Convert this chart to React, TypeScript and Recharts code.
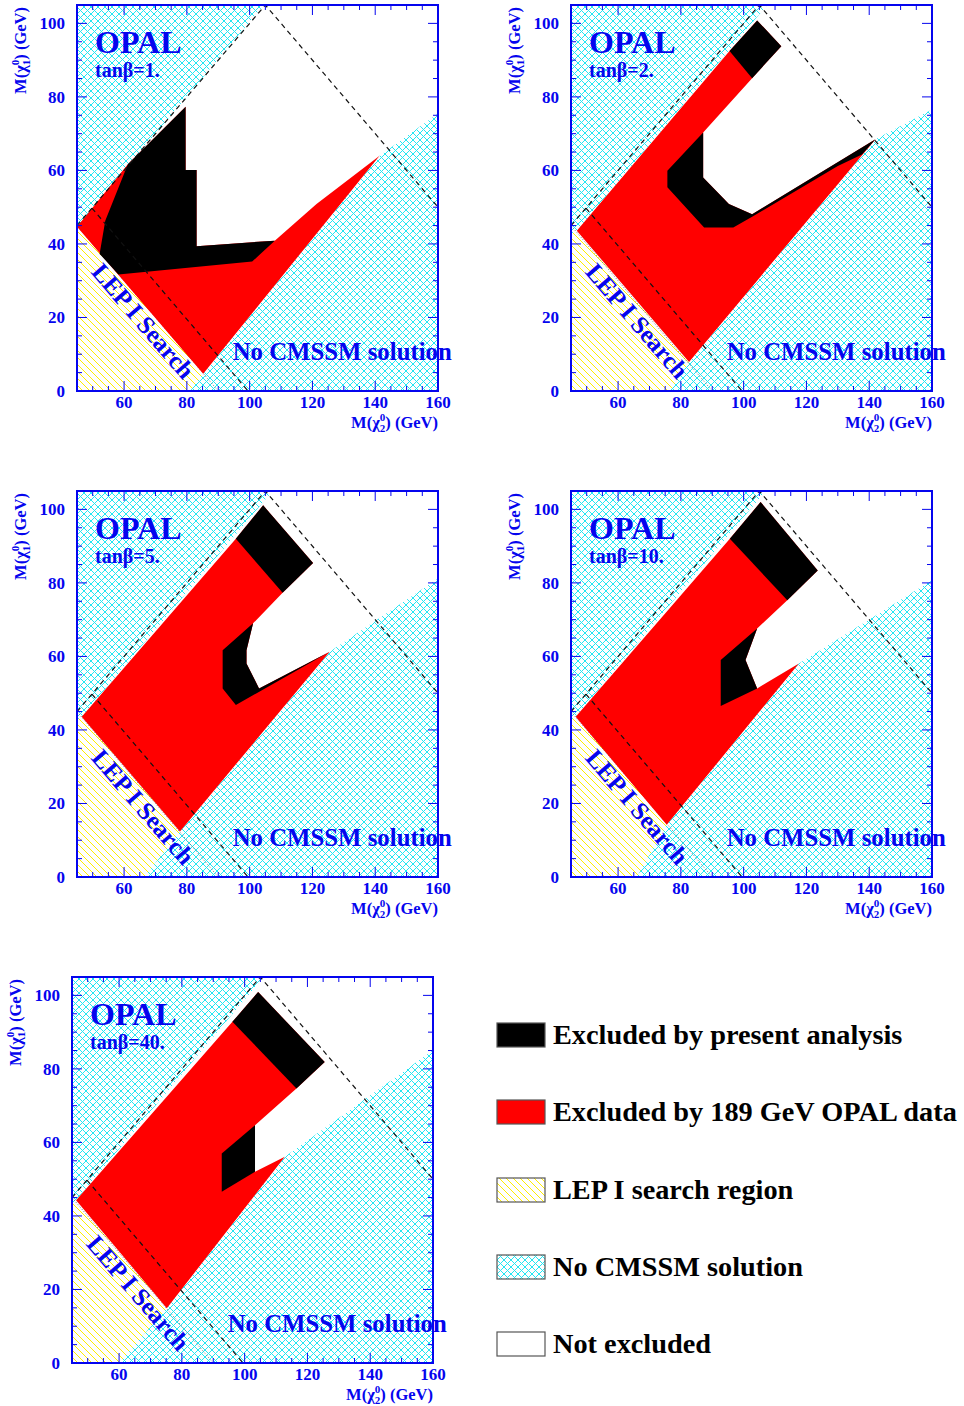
import React from "react";
import { ScatterChart, Scatter, XAxis, YAxis } from "recharts";

type Pt = [number, number];

// axis ticks
const xTicks = [45, 50, 55, 60, 65, 70, 75, 80, 85, 90, 95, 100, 105, 110, 115, 120, 125, 130, 135, 140, 145, 150, 155, 160];
const yTicks = [0, 5, 10, 15, 20, 25, 30, 35, 40, 45, 50, 55, 60, 65, 70, 75, 80, 85, 90, 95, 100, 105];
const xLabels = [60, 80, 100, 120, 140, 160];
const yLabels = [0, 20, 40, 60, 80, 100];

// lines common to all panels
const frame: Pt[] = [[45, 0], [45, 105], [160, 105], [160, 0]];
const kinematicLimit: Pt[] = [[45, 45], [105, 105], [160, 50]];
const lowerLimit: Pt[] = [[49.75, 49.75], [99.5, 0]];
const lepLine: Pt[] = [[45, 45], [90, 0]];
const lepRegion: Pt[] = [[45, 0], [45, 45.2], [90.2, 0]];

const tanBeta = ["1.", "2.", "5.", "10.", "40."];

// tan beta = 1
const p1NoSolUpper: Pt[] = [[45, 44.7], [104.5, 105], [45, 105]];
const p1NoSolLower: Pt[] = [[81, 0], [85.2, 4.7], [141.4, 64], [160, 75.5], [160, 0]];
const p1Excl189: Pt[] = [[45, 44.7], [61.2, 61.7], [79.6, 77.3], [79.6, 60.1], [83.1, 60.1], [83.1, 39.4], [108, 40.9], [121.3, 50.9], [141.4, 64], [85.2, 4.7]];
const p1ExclNew: Pt[][] = [
  [[61.2, 61.7], [79.6, 77.3], [79.6, 60.1], [83.1, 60.1], [83.1, 39.4], [108, 40.9], [100.8, 35.2], [58.2, 31.7], [52.2, 37.3], [54, 46.3]],
];

// tan beta = 2
const p2NoSolUpper: Pt[] = [[45, 42.8], [46.8, 43.5], [107.5, 105], [45, 105]];
const p2NoSolLower: Pt[] = [[76.5, 0], [82.6, 7.9], [142, 68.5], [160, 76.6], [160, 0]];
const p2Excl189: Pt[] = [[46.85, 43.6], [95.5, 92.5], [104.3, 100.8], [112, 93.8], [102.7, 85.1], [87.1, 70.3], [87.1, 58.1], [95.3, 50.9], [102.7, 48.1], [142, 68.5], [82.6, 7.9]];
const p2ExclNew: Pt[][] = [
  [[95.5, 92.5], [104.3, 100.8], [112, 93.8], [102.7, 85.1]],
  [[87.1, 70.3], [75.7, 59.9], [75.7, 55.4], [87.4, 44.5], [96.7, 44.5], [102.7, 47.4], [130, 61.2], [137.7, 64.3], [142, 68.5], [102.7, 48.1], [95.3, 50.9], [87.1, 58.1]],
];

// tan beta = 5
const p3NoSolUpper: Pt[] = [[45, 42.8], [46.5, 43.6], [107.3, 105], [45, 105]];
const p3NoSolLower: Pt[] = [[66.5, 0], [77.8, 12.4], [125.5, 61.3], [160, 81.2], [160, 0]];
const p3Excl189: Pt[] = [[46.5, 43.6], [95.6, 92], [104.3, 101.1], [120.2, 85.4], [110.5, 77.3], [101.1, 69], [99, 61.7], [99, 58.1], [103, 51.3], [125.5, 61.3], [77.8, 12.4]];
const p3ExclNew: Pt[][] = [
  [[95.6, 92], [104.3, 101.1], [120.2, 85.4], [110.5, 77.3]],
  [[91.4, 61.7], [101.1, 69], [99, 61.7], [99, 58.1], [103, 51.3], [125.5, 61.3], [95.6, 46.8], [91.4, 51.3]],
];

// tan beta = 10
const p4NoSolUpper: Pt[] = [[45, 42.8], [46.5, 43.6], [107, 105], [45, 105]];
const p4NoSolLower: Pt[] = [[66, 0], [75.5, 14.2], [117.6, 58.1], [160, 80.7], [160, 0]];
const p4Excl189: Pt[] = [[46.5, 43.6], [95.6, 92], [105.4, 102], [123.6, 83.4], [113.9, 75.3], [104.3, 67.6], [100.6, 59], [104.3, 51.3], [117.6, 58.1], [75.5, 14.2]];
const p4ExclNew: Pt[][] = [
  [[95.6, 92], [105.4, 102], [123.6, 83.4], [113.9, 75.3]],
  [[92.7, 59], [104.3, 67.6], [100.6, 59], [104.3, 51.3], [92.7, 46.5]],
];

// tan beta = 40
const p5NoSolUpper: Pt[] = [[45, 43], [46.3, 44.3], [106, 105], [45, 105]];
const p5NoSolLower: Pt[] = [[60, 0], [75.2, 14.9], [112.8, 56.1], [160, 85.1], [160, 0]];
const p5Excl189: Pt[] = [[46.3, 44.3], [96.1, 92.8], [104.3, 100.9], [125.5, 81.9], [116.5, 74.7], [103.3, 64.7], [103.3, 52], [112.8, 56.1], [75.2, 14.9]];
const p5ExclNew: Pt[][] = [
  [[96.1, 92.8], [104.3, 100.9], [125.5, 81.9], [116.5, 74.7]],
  [[92.7, 57], [103.3, 64.7], [103.3, 52], [92.7, 46.6]],
];

const BLUE = "#0505ee";
const FONT = "'Liberation Serif', 'Times New Roman', serif";
const CYAN = "#22e6f2";
const YELLOW = "#ffee00";

const PW = 361; // plot width
const PH = 386; // plot height
const AXW = 70; // left axis width

const panels = [
  { left: 77, top: 5, noUp: p1NoSolUpper, noLow: p1NoSolLower, red: p1Excl189, black: p1ExclNew },
  { left: 571, top: 5, noUp: p2NoSolUpper, noLow: p2NoSolLower, red: p2Excl189, black: p2ExclNew },
  { left: 77, top: 491, noUp: p3NoSolUpper, noLow: p3NoSolLower, red: p3Excl189, black: p3ExclNew },
  { left: 571, top: 491, noUp: p4NoSolUpper, noLow: p4NoSolLower, red: p4Excl189, black: p4ExclNew },
  { left: 72, top: 977, noUp: p5NoSolUpper, noLow: p5NoSolLower, red: p5Excl189, black: p5ExclNew },
];

// tick mark positions on the four sides of the frame
const bottomTicks = xTicks.map((x) => ({ x, y: 0, major: xLabels.includes(x) }));
const topTicks = xTicks.map((x) => ({ x, y: 105, major: xLabels.includes(x) }));
const leftTicks = yTicks.map((y) => ({ x: 45, y, major: yLabels.includes(y) }));
const rightTicks = yTicks.map((y) => ({ x: 160, y, major: yLabels.includes(y) }));

const toObj = (pts: Pt[]) => pts.map(([x, y]) => ({ x, y }));
const pathOf = (pts: any[], close: boolean) =>
  pts.map((p, i) => `${i ? "L" : "M"}${p.x},${p.y}`).join("") + (close ? "Z" : "");
const noShape = () => <g />;

function region(key: string, pts: Pt[], fill: string) {
  return (
    <Scatter
      key={key}
      data={toObj(pts)}
      shape={noShape}
      isAnimationActive={false}
      line={(p: any) => <path d={pathOf(p.points, true)} fill={fill} stroke="none" />}
    />
  );
}

function polyline(key: string, pts: Pt[], stroke: string, dash: string, width = 1, close = false) {
  return (
    <Scatter
      key={key}
      data={toObj(pts)}
      shape={noShape}
      isAnimationActive={false}
      line={(p: any) => (
        <path d={pathOf(p.points, close)} fill="none" stroke={stroke} strokeWidth={width} strokeDasharray={dash || undefined} />
      )}
    />
  );
}

// dx, dy: direction of the tick into the plot
function tickMarks(key: string, data: any[], dx: number, dy: number) {
  return (
    <Scatter
      key={key}
      data={data}
      isAnimationActive={false}
      shape={(p: any) => {
        const len = p.payload.major ? 10 : 5;
        return <line x1={p.cx} y1={p.cy} x2={p.cx + dx * len} y2={p.cy + dy * len} stroke={BLUE} strokeWidth={1} />;
      }}
    />
  );
}

const tickText = { fill: BLUE, fontFamily: FONT, fontWeight: 700, fontSize: 17 } as const;

function BottomLabel({ x, y, payload }: any) {
  if (!xLabels.includes(payload.value)) return <g />;
  return <text x={x} y={y + 17} textAnchor="middle" {...tickText}>{payload.value}</text>;
}
function LeftLabel({ x, y, payload }: any) {
  if (!yLabels.includes(payload.value)) return <g />;
  return <text x={x - 12} y={y + 6} textAnchor="end" {...tickText}>{payload.value}</text>;
}

function Panel({ cfg, id }: { cfg: (typeof panels)[number]; id: number }) {
  return (
    <div style={{ position: "absolute", left: cfg.left - AXW, top: cfg.top - 5 }}>
      <ScatterChart width={AXW + PW + 22} height={5 + PH + 50} margin={{ top: 5, right: 22, bottom: 0, left: 0 }}>
        <defs>
          <pattern id={`cy${id}`} patternUnits="userSpaceOnUse" width="7" height="7">
            <rect width="7" height="7" fill="#fff" />
            <path d="M0,0L7,7M7,0L0,7" stroke={CYAN} strokeWidth="1" shapeRendering="crispEdges" />
          </pattern>
          <pattern id={`ye${id}`} patternUnits="userSpaceOnUse" width="7" height="7">
            <rect width="7" height="7" fill="#fff" />
            <path d="M0,0L7,7M-1,6L1,8M6,-1L8,1" stroke={YELLOW} strokeWidth="1" shapeRendering="crispEdges" />
          </pattern>
        </defs>
        <XAxis type="number" dataKey="x" domain={[45, 160]} ticks={xTicks} interval={0}
          height={50} tickSize={0} tickMargin={0} axisLine={false} tickLine={false} tick={<BottomLabel />} />
        <YAxis type="number" dataKey="y" domain={[0, 105]} ticks={yTicks} interval={0}
          width={AXW} tickSize={0} tickMargin={0} axisLine={false} tickLine={false} tick={<LeftLabel />} />
        {region("lep", lepRegion, `url(#ye${id})`)}
        {region("noUp", cfg.noUp, `url(#cy${id})`)}
        {region("noLow", cfg.noLow, `url(#cy${id})`)}
        {polyline("lepLine", lepLine, "#777", "1 2")}
        {region("red", cfg.red, "#ff0000")}
        {cfg.black.map((b, i) => region(`black${i}`, b, "#000"))}
        {polyline("kin", kinematicLimit, "#111", "5 4", 1.2)}
        {polyline("low", lowerLimit, "#111", "5 4", 1.2)}
        {tickMarks("tb", bottomTicks, 0, -1)}
        {tickMarks("tt", topTicks, 0, 1)}
        {tickMarks("tl", leftTicks, 1, 0)}
        {tickMarks("tr", rightTicks, -1, 0)}
        {polyline("frame", frame, BLUE, "", 2, true)}
      </ScatterChart>
    </div>
  );
}

const txt = { fill: BLUE, fontFamily: FONT, fontWeight: 700 } as const;

function PanelText({ L, T, tan }: { L: number; T: number; tan: string }) {
  return (
    <g {...txt}>
      <text x={L + 18} y={T + 48} fontSize={32}>OPAL</text>
      <text x={L + 18} y={T + 72} fontSize={20}>tanβ={tan}</text>
      <text x={L + 155.7} y={T + 355} fontSize={24.8}>No CMSSM solution</text>
      <text transform={`translate(${L + 66},${T + 316}) rotate(49.4)`} textAnchor="middle" dominantBaseline="central" fontSize={25}>
        LEP I Search
      </text>
      <text x={L + PW} y={T + 423} textAnchor="end" fontSize={16.5}>
        M(χ<tspan dy={-7} fontSize={11}>0</tspan>
        <tspan dx={-5.5} dy={11} fontSize={11}>2</tspan>
        <tspan dy={-4}>) (GeV)</tspan>
      </text>
      <text transform={`translate(${L - 51},${T + 2}) rotate(-90)`} textAnchor="end" fontSize={16.5}>
        M(χ<tspan dy={-7} fontSize={11}>0</tspan>
        <tspan dx={-5.5} dy={11} fontSize={11}>1</tspan>
        <tspan dy={-4}>) (GeV)</tspan>
      </text>
    </g>
  );
}

const legendItems = [
  { label: "Excluded by present analysis", fill: "#000" },
  { label: "Excluded by 189 GeV OPAL data", fill: "#ff0000" },
  { label: "LEP I search region", fill: "url(#legYe)" },
  { label: "No CMSSM solution", fill: "url(#legCy)" },
  { label: "Not excluded", fill: "#fff" },
];
const legendTops = [1023, 1100, 1178, 1255, 1332];

export default function App() {
  return (
    <div style={{ position: "absolute", left: 0, top: 0, width: 964, height: 1406, background: "#fff" }}>
      {panels.map((p, i) => (
        <Panel key={i} cfg={p} id={i} />
      ))}
      <svg width={964} height={1406} style={{ position: "absolute", left: 0, top: 0, pointerEvents: "none" }}>
        <defs>
          <pattern id="legCy" patternUnits="userSpaceOnUse" width="7" height="7">
            <rect width="7" height="7" fill="#fff" />
            <path d="M0,0L7,7M7,0L0,7" stroke={CYAN} strokeWidth="1" shapeRendering="crispEdges" />
          </pattern>
          <pattern id="legYe" patternUnits="userSpaceOnUse" width="7" height="7">
            <rect width="7" height="7" fill="#fff" />
            <path d="M0,0L7,7M-1,6L1,8M6,-1L8,1" stroke={YELLOW} strokeWidth="1" shapeRendering="crispEdges" />
          </pattern>
        </defs>
        {panels.map((p, i) => (
          <PanelText key={i} L={p.left} T={p.top} tan={tanBeta[i]} />
        ))}
        {legendItems.map((it, i) => (
          <g key={it.label}>
            <rect x={497} y={legendTops[i]} width={48} height={24} fill={it.fill} stroke="#555" strokeWidth={1.2} />
            <text x={553} y={legendTops[i] + 21} fontFamily={FONT} fontWeight={700} fontSize={28.3} fill="#000">
              {it.label}
            </text>
          </g>
        ))}
      </svg>
    </div>
  );
}
